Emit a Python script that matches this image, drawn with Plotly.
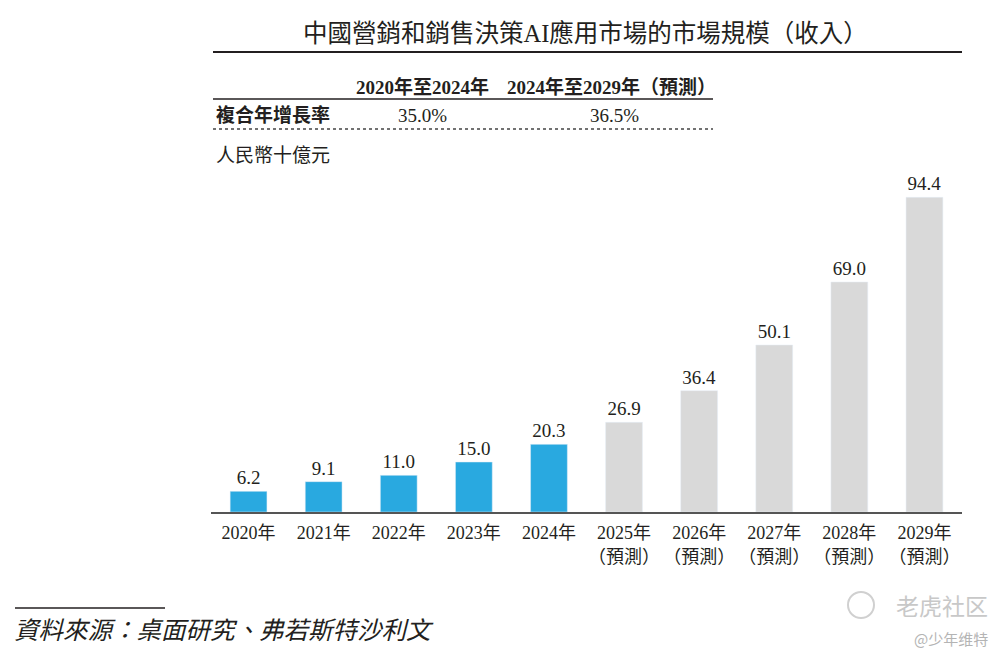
import plotly.graph_objects as go

# data (RMB bn)
hist_years = ["2020年", "2021年", "2022年", "2023年", "2024年"]
hist_values = [6.2, 9.1, 11.0, 15.0, 20.3]
fcst_years = ["2025年", "2026年", "2027年", "2028年", "2029年"]
fcst_values = [26.9, 36.4, 50.1, 69.0, 94.4]
tick_labels = hist_years + [y + "<br>（預測）" for y in fcst_years]

cagr_periods = ["2020年至2024年", "2024年至2029年（預測）"]
cagr_values = ["35.0%", "36.5%"]

TXT = "#231F20"
FONT = "Liberation Serif, Noto Sans CJK TC, serif"
BLUE = "#29A9E0"
GREY = "#D9D9D9"

OFF = 8  # page body margin
W, H = 1008 - OFF, 664 - OFF
L, R, T, B = 211, 962, 178, 512  # plot area in screen pixels


def px(x):
    return (x - L) / (R - L)


def py(y):
    return (B - y) / (B - T)


fig = go.Figure()
fig.add_trace(go.Bar(
    x=hist_years, y=hist_values, marker_color=BLUE, width=0.49,
    text=[f"{v:.1f}" for v in hist_values], textposition="outside",
    textfont=dict(size=19, color=TXT, family=FONT), cliponaxis=False,
))
fig.add_trace(go.Bar(
    x=fcst_years, y=fcst_values, marker_color=GREY, width=0.49,
    text=[f"{v:.1f}" for v in fcst_values], textposition="outside",
    textfont=dict(size=19, color=TXT, family=FONT), cliponaxis=False,
))

ann = []
# title
ann.append(dict(text="中國營銷和銷售決策AI應用市場的市場規模（收入）", x=px(585), y=py(33),
                font=dict(size=24.5, color=TXT), xanchor="center", yanchor="middle"))
# CAGR table
ann.append(dict(text="<b>" + cagr_periods[0] + "</b>", x=px(422), y=py(87),
                font=dict(size=19, color=TXT), xanchor="center", yanchor="middle"))
ann.append(dict(text="<b>" + cagr_periods[1] + "</b>", x=px(611), y=py(87),
                font=dict(size=19, color=TXT), xanchor="center", yanchor="middle"))
ann.append(dict(text="<b>複合年增長率</b>", x=px(214), y=py(115),
                font=dict(size=19, color=TXT), xanchor="left", yanchor="middle"))
ann.append(dict(text=cagr_values[0], x=px(422), y=py(115),
                font=dict(size=19, color=TXT), xanchor="center", yanchor="middle"))
ann.append(dict(text=cagr_values[1], x=px(614), y=py(115),
                font=dict(size=19, color=TXT), xanchor="center", yanchor="middle"))
ann.append(dict(text="人民幣十億元", x=px(214), y=py(155),
                font=dict(size=19, color=TXT), xanchor="left", yanchor="middle"))
# source
ann.append(dict(text="<i>資料來源：桌面研究、弗若斯特沙利文</i>", x=px(12), y=py(630),
                font=dict(size=24.5, color=TXT), xanchor="left", yanchor="middle"))
# watermark
ann.append(dict(text="老虎社区", x=px(990), y=py(605),
                font=dict(size=23, color="#C8C8C8", family="Noto Sans CJK SC"),
                xanchor="right", yanchor="middle"))
ann.append(dict(text="@少年维特", x=px(990), y=py(638),
                font=dict(size=15, color="#B4B4B4", family="Noto Sans CJK SC"),
                xanchor="right", yanchor="middle"))
for a in ann:
    a.update(xref="paper", yref="paper", showarrow=False)
    a["font"].setdefault("family", FONT)

shapes = [
    dict(type="line", x0=px(213), x1=px(962), y0=py(52), y1=py(52),
         line=dict(color=TXT, width=2)),
    dict(type="line", x0=px(213), x1=px(713), y0=py(99), y1=py(99),
         line=dict(color=TXT, width=1.5)),
    dict(type="line", x0=px(213), x1=px(713), y0=py(129), y1=py(129),
         line=dict(color="#444444", width=1.5, dash="dot")),
    dict(type="line", x0=px(15), x1=px(165), y0=py(608), y1=py(608),
         line=dict(color=TXT, width=1.5)),
    dict(type="circle", x0=px(848), x1=px(874), y0=py(592), y1=py(618),
         line=dict(color="#D0D0D0", width=2)),
]
for s in shapes:
    s.update(xref="paper", yref="paper")

fig.update_layout(
    width=W, height=H,
    margin=dict(l=L - OFF, r=W - (R - OFF), t=T - OFF, b=H - (B - OFF), pad=0),
    plot_bgcolor="white", paper_bgcolor="white",
    barmode="overlay", showlegend=False,
    font=dict(family=FONT, color=TXT),
    annotations=ann, shapes=shapes,
    xaxis=dict(
        type="category", categoryorder="array", categoryarray=hist_years + fcst_years,
        tickvals=hist_years + fcst_years, ticktext=tick_labels,
        tickfont=dict(size=18, color=TXT, family=FONT),
        showline=True, linecolor="#555555", linewidth=1.5,
        ticks="outside", ticklen=4, tickcolor="white",
        showgrid=False, zeroline=False, fixedrange=True,
    ),
    yaxis=dict(range=[0, 100.2], visible=False, fixedrange=True),
)

fig.write_html("out.html", config={"displayModeBar": False})
